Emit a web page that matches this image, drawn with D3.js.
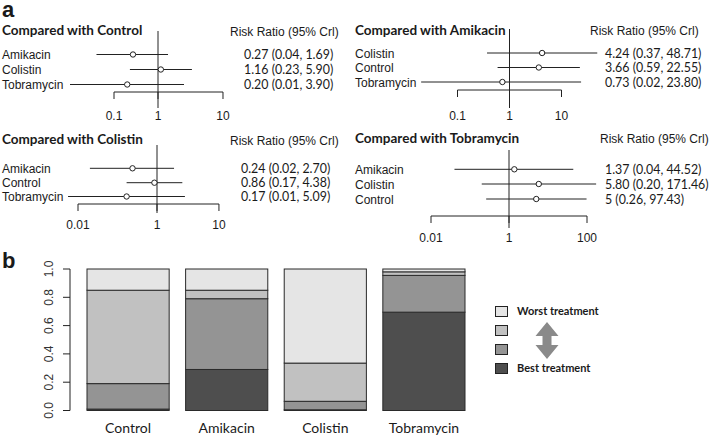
<!DOCTYPE html>
<html><head><meta charset="utf-8">
<script src="https://cdn.jsdelivr.net/npm/d3@7"></script>
<style>
html,body{margin:0;padding:0;background:#fff;}
svg{display:block;}
</style></head>
<body>
<svg id="chart" width="709" height="437"></svg>
<script>
// ---------- DATA: panel a (forest plots) ----------
const ctrlNames = ["Amikacin", "Colistin", "Tobramycin"];
const ctrlEst   = [0.27, 1.16, 0.20];
const ctrlLow   = [0.04, 0.23, 0.01];
const ctrlHigh  = [1.69, 5.90, 3.90];
const ctrlText  = ["0.27 (0.04, 1.69)", "1.16 (0.23, 5.90)", "0.20 (0.01, 3.90)"];

const amiNames = ["Colistin", "Control", "Tobramycin"];
const amiEst   = [4.24, 3.66, 0.73];
const amiLow   = [0.37, 0.59, 0.02];
const amiHigh  = [48.71, 22.55, 23.80];
const amiText  = ["4.24 (0.37, 48.71)", "3.66 (0.59, 22.55)", "0.73 (0.02, 23.80)"];

const colNames = ["Amikacin", "Control", "Tobramycin"];
const colEst   = [0.24, 0.86, 0.17];
const colLow   = [0.02, 0.17, 0.0056];   // last lower end
const colHigh  = [2.70, 4.38, 5.09];
const colText  = ["0.24 (0.02, 2.70)", "0.86 (0.17, 4.38)", "0.17 (0.01, 5.09)"];

const tobNames = ["Amikacin", "Colistin", "Control"];
const tobEst   = [1.37, 5.80, 5];
const tobLow   = [0.04, 0.20, 0.26];
const tobHigh  = [44.52, 171.46, 97.43];
const tobText  = ["1.37 (0.04, 44.52)", "5.80 (0.20, 171.46)", "5 (0.26, 97.43)"];

// axis ticks: where each labelled tick sits on the picture (data units) and its label
const ctrlTickVals = [0.1, 1, 30];   const ctrlTickLabels = ["0.1", "1", "10"];
const amiTickVals  = [0.1, 1, 10];   const amiTickLabels  = ["0.1", "1", "10"];
const colTickVals  = [0.01, 1, 37];  const colTickLabels  = ["0.01", "1", "10"];
const tobTickVals  = [0.01, 1, 100]; const tobTickLabels  = ["0.01", "1", "100"];

// ---------- DATA: panel b (rank probabilities) ----------
const treatments = ["Control", "Amikacin", "Colistin", "Tobramycin"];
const rankBest   = [0.01, 0.29, 0.005, 0.695];
const rankSecond = [0.18, 0.50, 0.06, 0.26];
const rankThird  = [0.66, 0.06, 0.27, 0.025];
const rankWorst  = [0.15, 0.15, 0.665, 0.02];
const yTicks = [0, 0.2, 0.4, 0.6, 0.8, 1.0];
const legendLabels = ["Worst treatment", "", "", "Best treatment"];

// ---------- DRAW ----------
const svg = d3.select("#chart");
const ARIAL = "'Liberation Sans', Arial, sans-serif";
const CAL = "Lato, 'Open Sans', sans-serif";
const INK = "#1a1a1a";

svg.append("text").attr("x", 2).attr("y", 17).text("a")
  .attr("font-family", ARIAL).attr("font-weight", "bold").attr("font-size", 22).attr("fill", INK);
svg.append("text").attr("x", 2).attr("y", 268).text("b")
  .attr("font-family", ARIAL).attr("font-weight", "bold").attr("font-size", 22).attr("fill", INK);

function forest(cfg) {
  const g = svg.append("g");
  const x = d3.scaleLog().domain(cfg.domain).range(cfg.range);
  g.append("text").attr("x", cfg.x0).attr("y", cfg.titleY).text(cfg.title)
    .attr("font-family", CAL).attr("font-weight", "bold").attr("font-size", 13.5).attr("fill", INK);
  g.append("text").attr("x", cfg.headerX).attr("y", cfg.headerY).text("Risk Ratio (95% Crl)")
    .attr("font-family", ARIAL).attr("font-size", 12).attr("fill", INK);
  // reference line at 1
  g.append("line").attr("x1", x(1)).attr("x2", x(1)).attr("y1", cfg.refTop).attr("y2", cfg.refBottom)
    .attr("stroke", "#222").attr("stroke-width", 1);
  cfg.names.forEach((n, i) => {
    const cy = cfg.rowsY[i];
    g.append("text").attr("x", cfg.x0).attr("y", cy + 4.5).text(n)
      .attr("font-family", ARIAL).attr("font-size", 12).attr("fill", INK);
    g.append("line").attr("x1", x(cfg.low[i])).attr("x2", x(cfg.high[i]))
      .attr("y1", cy).attr("y2", cy).attr("stroke", "#222").attr("stroke-width", 1);
    g.append("circle").attr("cx", x(cfg.est[i])).attr("cy", cy).attr("r", 2.7)
      .attr("fill", "#fff").attr("stroke", "#222").attr("stroke-width", 1);
    g.append("text").attr("x", cfg.valueX).attr("y", cy + 4.5).text(cfg.text[i])
      .attr("font-family", CAL).attr("font-size", 12.4).attr("fill", INK);
  });
  // bottom axis (R style: line, ticks down, labels below)
  const tv = cfg.tickVals;
  g.append("line").attr("x1", x(tv[0])).attr("x2", x(tv[tv.length - 1]))
    .attr("y1", cfg.axisY).attr("y2", cfg.axisY).attr("stroke", "#222");
  tv.forEach((v, i) => {
    g.append("line").attr("x1", x(v)).attr("x2", x(v)).attr("y1", cfg.axisY).attr("y2", cfg.axisY + 7)
      .attr("stroke", "#222");
    g.append("text").attr("x", x(v)).attr("y", cfg.tickLabelY).text(cfg.tickLabels[i])
      .attr("text-anchor", "middle").attr("font-family", ARIAL).attr("font-size", 12).attr("fill", INK);
  });
}

forest({title: "Compared with Control", names: ctrlNames, est: ctrlEst, low: ctrlLow, high: ctrlHigh, text: ctrlText,
  tickVals: ctrlTickVals, tickLabels: ctrlTickLabels, domain: [0.1, 1], range: [114, 158],
  x0: 2, titleY: 35, headerX: 230, headerY: 35.5, valueX: 244, rowsY: [54.5, 69.5, 84.5],
  refTop: 31, refBottom: 108, axisY: 92, tickLabelY: 120});
forest({title: "Compared with Amikacin", names: amiNames, est: amiEst, low: amiLow, high: amiHigh, text: amiText,
  tickVals: amiTickVals, tickLabels: amiTickLabels, domain: [0.1, 10], range: [457.5, 561.5],
  x0: 355, titleY: 35, headerX: 590, headerY: 34.5, valueX: 605, rowsY: [53, 67.5, 82],
  refTop: 29, refBottom: 108, axisY: 90, tickLabelY: 120});
forest({title: "Compared with Colistin", names: colNames, est: colEst, low: colLow, high: colHigh, text: colText,
  tickVals: colTickVals, tickLabels: colTickLabels, domain: [0.01, 1], range: [78, 157],
  x0: 2, titleY: 144, headerX: 230, headerY: 145, valueX: 241, rowsY: [168.3, 182.7, 196.5],
  refTop: 145, refBottom: 213, axisY: 204, tickLabelY: 229});
forest({title: "Compared with Tobramycin", names: tobNames, est: tobEst, low: tobLow, high: tobHigh, text: tobText,
  tickVals: tobTickVals, tickLabels: tobTickLabels, domain: [0.01, 100], range: [431, 587],
  x0: 355, titleY: 142.5, headerX: 600, headerY: 143, valueX: 605, rowsY: [169.3, 184, 199],
  refTop: 150, refBottom: 228, axisY: 216, tickLabelY: 242});

// ---------- panel b ----------
const rows = treatments.map((t, i) => ({t, best: rankBest[i], second: rankSecond[i], third: rankThird[i], worst: rankWorst[i]}));
const keys = ["best", "second", "third", "worst"];
const fills = {best: "#4e4e4e", second: "#949494", third: "#c1c1c1", worst: "#e5e5e5"};
const stack = d3.stack().keys(keys)(rows);
const xb = d3.scaleBand().domain(treatments).range([87, 465]).paddingInner(0.1667).paddingOuter(0);
const yb = d3.scaleLinear().domain([0, 1]).range([410.5, 269]);

const gb = svg.append("g");
stack.forEach(layer => {
  gb.selectAll(null).data(layer).enter().append("rect")
    .attr("x", d => xb(d.data.t)).attr("width", xb.bandwidth())
    .attr("y", d => yb(d[1])).attr("height", d => yb(d[0]) - yb(d[1]))
    .attr("fill", fills[layer.key]).attr("stroke", "#2a2a2a").attr("stroke-width", 1);
});
gb.selectAll(null).data(treatments).enter().append("text")
  .attr("x", d => xb(d) + xb.bandwidth() / 2).attr("y", 433).text(d => d)
  .attr("text-anchor", "middle").attr("font-family", CAL).attr("font-size", 14).attr("fill", INK);

// y axis
gb.append("line").attr("x1", 70).attr("x2", 70).attr("y1", yb(0)).attr("y2", yb(1)).attr("stroke", "#222");
yTicks.forEach(v => {
  gb.append("line").attr("x1", 63).attr("x2", 70).attr("y1", yb(v)).attr("y2", yb(v)).attr("stroke", "#222");
  gb.append("text").attr("transform", `translate(53,${yb(v)}) rotate(-90)`).text(v.toFixed(1))
    .attr("text-anchor", "middle").attr("font-family", ARIAL).attr("font-size", 12).attr("fill", "#333");
});

// legend
const legKeys = ["worst", "third", "second", "best"];
const legTop = [306, 325, 344, 363];
legKeys.forEach((k, i) => {
  gb.append("rect").attr("x", 495.5).attr("y", legTop[i] + 0.5).attr("width", 12).attr("height", 10)
    .attr("fill", fills[k]).attr("stroke", "#222").attr("stroke-width", 1);
  if (legendLabels[i]) {
    gb.append("text").attr("x", 517).attr("y", legTop[i] + 8.5).text(legendLabels[i])
      .attr("font-family", CAL).attr("font-weight", "bold").attr("font-size", 11).attr("fill", INK);
  }
});
// double-headed arrow
const ax = 547, aTop = 322, aBot = 359, hw = 11.5, hh = 14, sw = 4.5;
const arrowPts = [[ax, aTop], [ax + hw, aTop + hh], [ax + sw, aTop + hh], [ax + sw, aBot - hh], [ax + hw, aBot - hh],
  [ax, aBot], [ax - hw, aBot - hh], [ax - sw, aBot - hh], [ax - sw, aTop + hh], [ax - hw, aTop + hh]];
gb.append("path").attr("d", d3.line()(arrowPts) + "Z").attr("fill", "#8a8a8a");
</script>
</body></html>
